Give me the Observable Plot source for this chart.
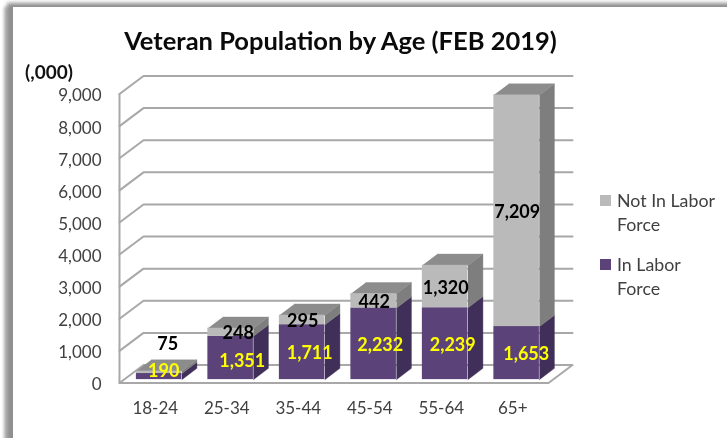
<!DOCTYPE html>
<html>
<head>
<meta charset="utf-8">
<script src="https://cdn.jsdelivr.net/npm/d3@7"></script>
<script src="https://cdn.jsdelivr.net/npm/@observablehq/plot@0.6"></script>
<style>
html,body{margin:0;padding:0;background:#fff;overflow:hidden;width:727px;height:438px}
#frame{position:absolute;left:13px;top:7px;width:760px;height:480px;background:#fff;box-shadow:-3px -1px 4px 3px #8f8f8f, -9px 0 3px 0 #b9b9b9}
#chart{position:absolute;left:0;top:0;filter:blur(.35px)}
.t{position:absolute;font-family:Lato,sans-serif;white-space:nowrap;filter:blur(.3px)}
#title{left:0;width:681px;top:24px;text-align:center;font-size:25.5px;font-weight:700;color:#0a0a0a;line-height:32px}
#unit{left:25px;top:60px;font-size:19px;font-weight:700;color:#111;line-height:24px}
.lg{left:617px;font-size:17.8px;line-height:24px;color:#404040}
.sw{position:absolute;left:600px;width:11px;height:11px}
</style>
</head>
<body>
<div id="frame"></div>
<div id="chart"></div>
<div class="t" id="title">Veteran Population by Age (FEB 2019)</div>
<div class="t" id="unit">(,000)</div>
<div class="sw" style="top:195px;background:#BABABA"></div>
<div class="t lg" style="top:188px">Not In Labor<br>Force</div>
<div class="sw" style="top:259px;background:#5B4379"></div>
<div class="t lg" style="top:252px">In Labor<br>Force</div>
<script>
const categories = ["18-24","25-34","35-44","45-54","55-64","65+"];
const inLabor    = [190,1351,1711,2232,2239,1653];
const notInLabor = [75,248,295,442,1320,7209];
const yTicks     = [0,1000,2000,3000,4000,5000,6000,7000,8000,9000];

const purple = {front:"#5B4379", side:"#402F58"};
const gray   = {front:"#BABABA", side:"#7E7E7E", top:"#8C8C8C"};
const gridColor = "#A8A8A8";

// Oblique projection expressed in the plot's own data units
const depthX = 24/71.5, depthY = 18/32.11*1000;
const px = (x,d) => x + d*depthX;
const py = (y,d) => y + d*depthY;
const barLeft = 0.173, barRight = 0.81, d0 = 0.1875, d1 = 0.8125;

const segments = [
  ["base",[[6,0,0],[6,0,1],[0,0,1],[0,0,0],[6,0,0]]],
  ["axis",[[0,0,0],[0,9000,0]]],
  ...yTicks.slice(1).map(v=>["g"+v,[[0,v,0],[0,v,1],[6,v,1]]])
];
const gridPts = segments.flatMap(([id,pts])=>pts.map(([x,y,d])=>({id,x:px(x,d),y:py(y,d)})));

const fronts = [], faces = [];
function addSide(id,color,b,top,bottom){
  [[b,bottom,d0],[b,bottom,d1],[b,top,d1],[b,top,d0]].forEach(([x,y,d])=>faces.push({id:id+"s",color:color.side,x:px(x,d),y:py(y,d)}));
}
categories.forEach((c,i)=>{
  const a=i+barLeft, b=i+barRight, s=inLabor[i], t=s+notInLabor[i];
  addSide(c+"p",purple,b,s,0);
  addSide(c+"n",gray,b,t,s);
  [[a,t,d0],[b,t,d0],[b,t,d1],[a,t,d1]].forEach(([x,y,d])=>faces.push({id:c+"t",color:gray.top,x:px(x,d),y:py(y,d)}));
  fronts.push({x1:px(a,d0),x2:px(b,d0),y1:py(0,d0),y2:py(s,d0),fill:purple.front});
  fronts.push({x1:px(a,d0),x2:px(b,d0),y1:py(s,d0),y2:py(t,d0),fill:gray.front});
});

// Hand-read nudges of the data labels, in pixels
const purpleNudge = [[4,-5],[11,3.6],[7,1.4],[6,1],[7,2],[9,1.5]];
const grayNudge   = [[8,-27.7],[7,1.3],[0,1.6],[0,1.6],[0,2],[0,1.5]];
const fmt = d3.format(",");
const labels = categories.flatMap((c,i)=>[
  {x:px(i+.5,d0),y:py(inLabor[i]/2,d0),text:fmt(inLabor[i]),fill:"#FFFF00",n:purpleNudge[i]},
  {x:px(i+.5,d0),y:py(inLabor[i]+notInLabor[i]/2,d0),text:fmt(notInLabor[i]),fill:"#000",n:grayNudge[i]}
]);

const plot = Plot.plot({
  width:727, height:438,
  marginLeft:119, marginRight:179, marginTop:93.5, marginBottom:55.5,
  style:{fontFamily:"Lato, sans-serif",fontSize:"17px",color:"#404040",background:"transparent",overflow:"visible"},
  x:{domain:[0,6],axis:null},
  y:{domain:[0,9000],axis:null},
  marks:[
    Plot.line(gridPts,{x:"x",y:"y",z:"id",stroke:gridColor,strokeWidth:2}),
    Plot.line(faces,{x:"x",y:"y",z:"id",fill:"color",stroke:"color",strokeWidth:.4}),
    Plot.rect(fronts,{x1:"x1",x2:"x2",y1:"y1",y2:"y2",fill:"fill"}),
    Plot.axisY({ticks:yTicks,tickSize:0,tickPadding:18,tickFormat:d=>fmt(d),label:null,marginLeft:119,dy:2}),
    Plot.axisX({ticks:categories.map((c,i)=>i+.5),tickSize:0,tickPadding:19,tickFormat:d=>categories[d-.5],label:null,marginBottom:55.5}),
    ...labels.map(l=>Plot.text([l],{x:"x",y:"y",text:"text",fill:"fill",dx:l.n[0],dy:l.n[1],fontSize:18,fontWeight:700}))
  ]
});
document.getElementById("chart").appendChild(plot);
</script>
</body>
</html>
